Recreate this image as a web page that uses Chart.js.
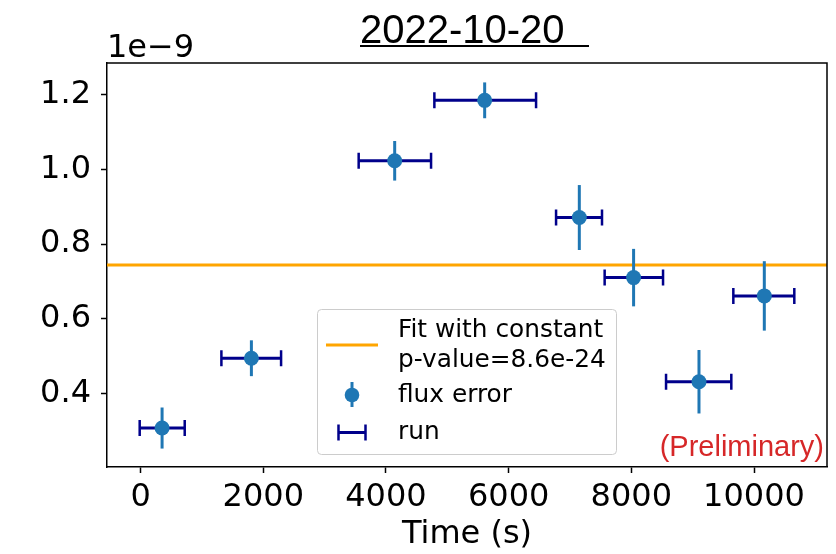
<!DOCTYPE html>
<html><head><meta charset="utf-8">
<script src="https://cdn.jsdelivr.net/npm/chart.js@4/dist/chart.umd.min.js"></script>
<style>html,body{margin:0;padding:0;background:#fff}</style>
</head><body><canvas id="c" width="836" height="554"></canvas>
<script>
// ---- data (flux in units of 1e-9) ----
const titleText = '2022-10-20';
const xTime    = [350, 1806, 4142, 5609, 7152, 8037, 9103, 10168];
const runStart = [-15, 1317, 3555, 4789, 6773, 7565, 8566, 9663];
const runEnd   = [719, 2290, 4735, 6447, 7522, 8517, 9630, 10657];
const flux     = [0.307, 0.494, 1.023, 1.185, 0.871, 0.710, 0.431, 0.661];
const fluxErr  = [0.055, 0.048, 0.053, 0.048, 0.087, 0.077, 0.085, 0.093];
const fitConstant = 0.7435;
const pValue = '8.6e-24';
const xTicks = [0, 2000, 4000, 6000, 8000, 10000];
const yTicks = [0.4, 0.6, 0.8, 1.0, 1.2];
const xRange = [-548, 11190];
const yRange = [0.2026, 1.285];
const legendLabels = ['Fit with constant', 'p-value=' + pValue, 'flux error', 'run'];
const offsetText = '1e\u22129';
const prelimText = '(Preliminary)';

const BLUE = '#1f77b4', NAVY = '#00008b', ORANGE = '#ffa500';
const DV = "'DejaVu Sans'", LS = "'Liberation Sans'";

const errPlugin = {
  id: 'err',
  beforeDatasetDraw(chart, args) {
    if (args.index !== 0) return;
    const {ctx, scales: {x, y}} = chart;
    ctx.save();
    ctx.lineCap = 'butt';
    for (let i = 0; i < xTime.length; i++) {
      const x1 = x.getPixelForValue(runStart[i]);
      const x2 = x.getPixelForValue(runEnd[i]);
      const py = y.getPixelForValue(flux[i]);
      ctx.strokeStyle = NAVY;
      ctx.lineWidth = 3;
      ctx.beginPath(); ctx.moveTo(x1, py); ctx.lineTo(x2, py); ctx.stroke();
      ctx.lineWidth = 2.5;
      ctx.beginPath();
      ctx.moveTo(x1, py - 8); ctx.lineTo(x1, py + 8);
      ctx.moveTo(x2, py - 8); ctx.lineTo(x2, py + 8);
      ctx.stroke();
    }
    for (let i = 0; i < xTime.length; i++) {
      const px = x.getPixelForValue(xTime[i]);
      const y1 = y.getPixelForValue(flux[i] - fluxErr[i]);
      const y2 = y.getPixelForValue(flux[i] + fluxErr[i]);
      ctx.strokeStyle = BLUE;
      ctx.lineWidth = 3;
      ctx.beginPath(); ctx.moveTo(px, y1); ctx.lineTo(px, y2); ctx.stroke();
    }
    ctx.restore();
  },
  afterDraw(chart) {
    const {ctx, chartArea: a} = chart;
    ctx.save();
    // frame top/right
    ctx.strokeStyle = '#000'; ctx.lineWidth = 1.5;
    ctx.beginPath();
    ctx.moveTo(a.left, a.top); ctx.lineTo(a.right, a.top); ctx.lineTo(a.right, a.bottom);
    ctx.stroke();
    // title
    ctx.fillStyle = '#000';
    ctx.font = '40px ' + LS;
    ctx.textAlign = 'left'; ctx.textBaseline = 'alphabetic';
    ctx.fillText(titleText, 360, 43);
    ctx.fillRect(360, 45, 229, 2);
    // offset text
    ctx.font = '32px ' + DV;
    ctx.fillText(offsetText, 107, 57);
    // preliminary
    ctx.fillStyle = '#d62728';
    ctx.font = '29px ' + LS;
    ctx.textAlign = 'right';
    ctx.fillText(prelimText, 824, 456);
    // legend
    ctx.beginPath();
    ctx.roundRect(317.5, 309.5, 299, 145, 4);
    ctx.fillStyle = 'rgba(255,255,255,0.8)';
    ctx.fill();
    ctx.strokeStyle = '#cccccc'; ctx.lineWidth = 1;
    ctx.stroke();
    ctx.strokeStyle = ORANGE; ctx.lineWidth = 3;
    ctx.beginPath(); ctx.moveTo(326, 345); ctx.lineTo(378, 345); ctx.stroke();
    ctx.strokeStyle = BLUE; ctx.lineWidth = 3;
    ctx.beginPath(); ctx.moveTo(352, 382); ctx.lineTo(352, 407); ctx.stroke();
    ctx.fillStyle = BLUE;
    ctx.beginPath(); ctx.arc(352, 395, 7.3, 0, Math.PI * 2); ctx.fill();
    ctx.strokeStyle = NAVY; ctx.lineWidth = 3;
    ctx.beginPath(); ctx.moveTo(338.5, 432.5); ctx.lineTo(365.5, 432.5); ctx.stroke();
    ctx.lineWidth = 2.5;
    ctx.beginPath();
    ctx.moveTo(338.5, 424.5); ctx.lineTo(338.5, 440.5);
    ctx.moveTo(365.5, 424.5); ctx.lineTo(365.5, 440.5);
    ctx.stroke();
    ctx.fillStyle = '#000';
    ctx.font = '24.8px ' + DV;
    ctx.textAlign = 'left';
    ctx.fillText(legendLabels[0], 398, 337);
    ctx.fillText(legendLabels[1], 398, 366.5);
    ctx.fillText(legendLabels[2], 398, 401.5);
    ctx.fillText(legendLabels[3], 398, 439);
    ctx.restore();
  }
};

const tickFont = {family: 'DejaVu Sans', size: 32};
new Chart(document.getElementById('c'), {
  type: 'scatter',
  data: {
    datasets: [
      {
        label: 'flux error',
        data: xTime.map((t, i) => ({x: t, y: flux[i]})),
        backgroundColor: BLUE, borderWidth: 0,
        pointRadius: 7.5, pointHoverRadius: 7.5
      },
      {
        label: 'Fit with constant',
        type: 'line',
        data: [{x: xRange[0], y: fitConstant}, {x: xRange[1], y: fitConstant}],
        borderColor: ORANGE, borderWidth: 3, pointRadius: 0, fill: false
      }
    ]
  },
  options: {
    responsive: false, animation: false, devicePixelRatio: 1,
    layout: {padding: {left: 0, right: 9, top: 63, bottom: 0}},
    plugins: {legend: {display: false}, title: {display: false}, tooltip: {enabled: false}},
    scales: {
      x: {
        type: 'linear', min: xRange[0], max: xRange[1],
        afterBuildTicks: s => { s.ticks = xTicks.map(v => ({value: v})); },
        afterFit: s => { s.height = 87; },
        ticks: {font: tickFont, color: '#000', padding: 5, maxRotation: 0, autoSkip: false,
                callback: v => String(v)},
        grid: {drawOnChartArea: false, tickLength: 6, tickColor: '#000', tickWidth: 1.5},
        border: {color: '#000', width: 1.5},
        title: {display: true, text: 'Time (s)', font: tickFont, color: '#000', padding: {top: 0, bottom: 0}}
      },
      y: {
        type: 'linear', min: yRange[0], max: yRange[1],
        afterBuildTicks: s => { s.ticks = yTicks.map(v => ({value: v})); },
        afterFit: s => { s.width = 107; },
        ticks: {font: tickFont, color: '#000', padding: 10, autoSkip: false,
                callback: v => Number(v).toFixed(1)},
        grid: {drawOnChartArea: false, tickLength: 6, tickColor: '#000', tickWidth: 1.5},
        border: {color: '#000', width: 1.5}
      }
    }
  },
  plugins: [errPlugin]
});
</script>
</body></html>
